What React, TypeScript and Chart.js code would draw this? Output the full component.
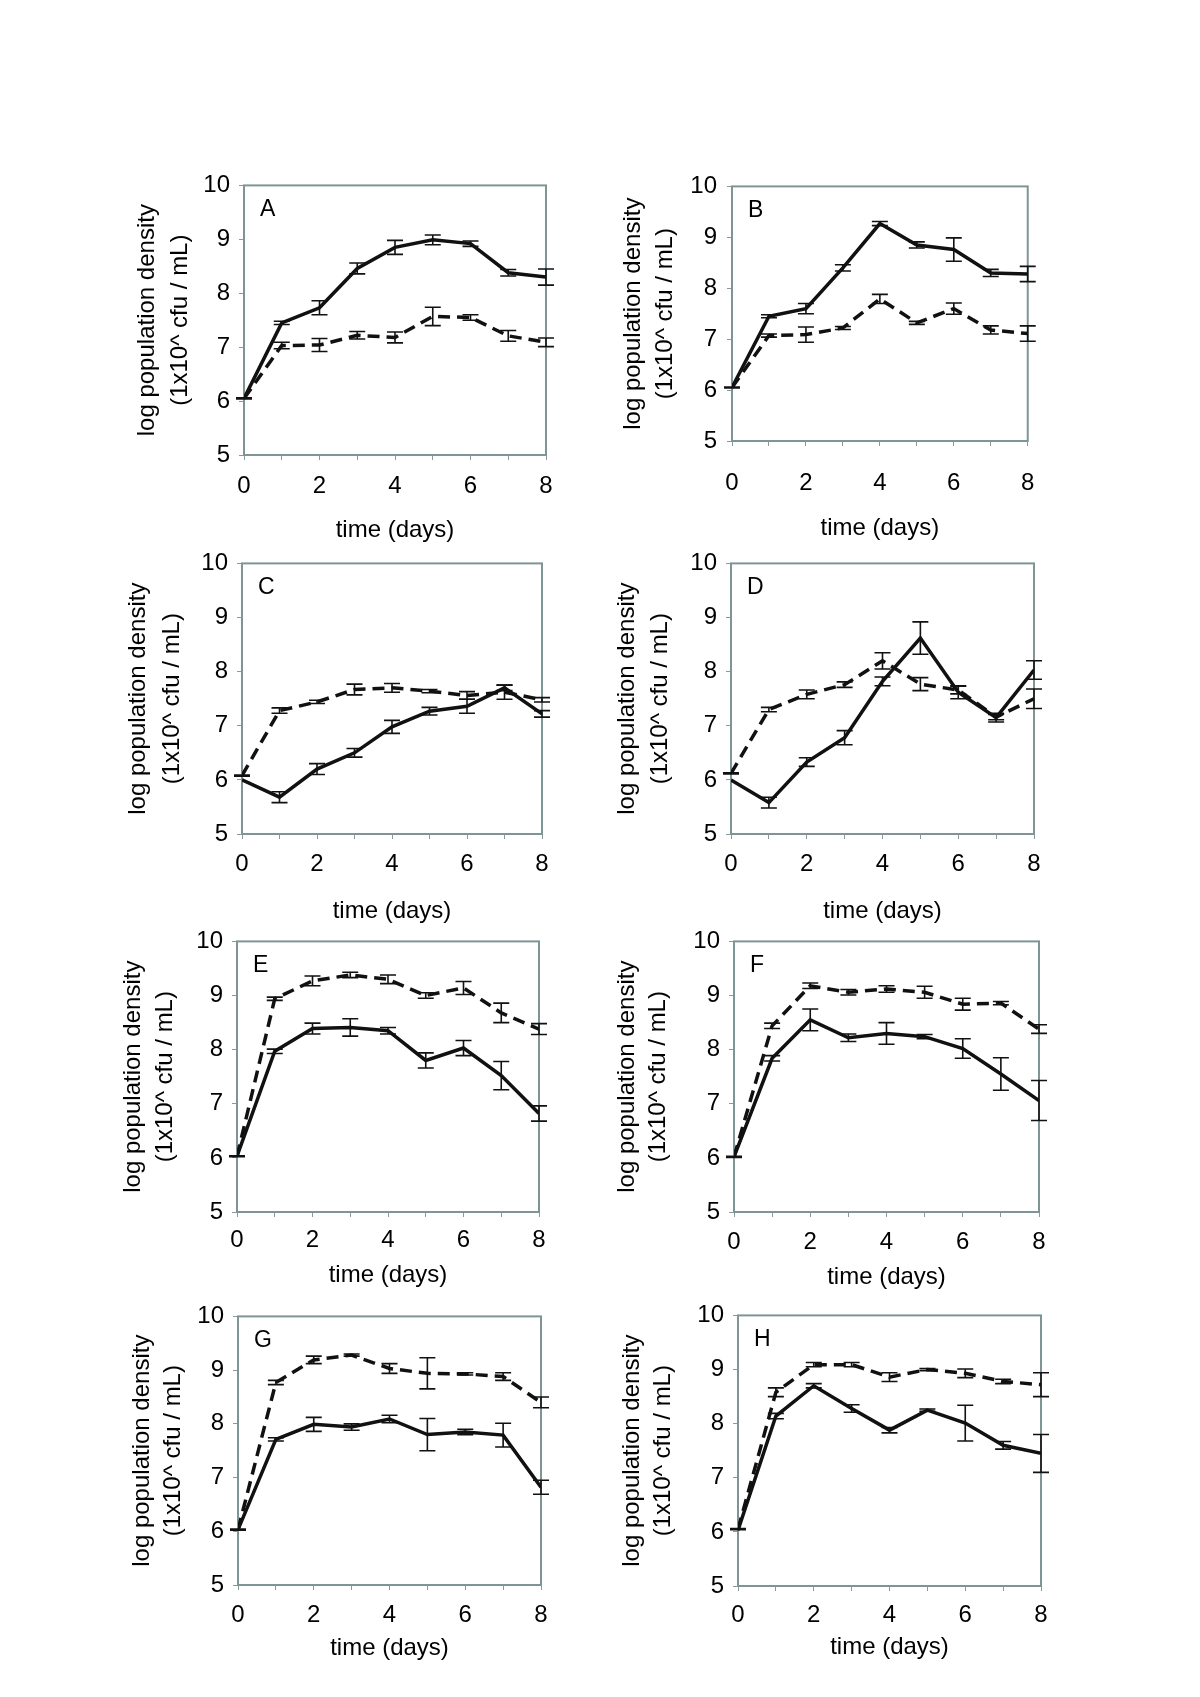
import React, { useEffect, useRef } from 'react';
import { Chart, registerables } from 'chart.js';
Chart.register(...registerables);

const FONT = '"Liberation Sans", Arial, Helvetica, sans-serif';

// ---- data ----
const days = [0, 1, 2, 3, 4, 5, 6, 7, 8];
const xTickLabels = ['0', '', '2', '', '4', '', '6', '', '8'];
const yTitle = ['log population density', '(1x10^ cfu / mL)'];
const xTitle = 'time (days)';

const aSolid = [6.05, 7.45, 7.73, 8.46, 8.85, 8.99, 8.92, 8.38, 8.30];
const aSolidErr = [0, 0.03, 0.13, 0.1, 0.13, 0.09, 0.05, 0.06, 0.15];
const aDashed = [6.05, 7.03, 7.04, 7.22, 7.18, 7.57, 7.55, 7.21, 7.09];
const aDashedErr = [0.01, 0.06, 0.12, 0.07, 0.1, 0.17, 0.05, 0.1, 0.08];

const bSolid = [6.05, 7.45, 7.6, 8.4, 9.27, 8.85, 8.76, 8.3, 8.28];
const bSolidErr = [0, 0.03, 0.1, 0.06, 0.04, 0.06, 0.23, 0.07, 0.15];
const bDashed = [6.05, 7.07, 7.09, 7.22, 7.79, 7.32, 7.6, 7.18, 7.11];
const bDashedErr = [0.01, 0.03, 0.15, 0.03, 0.09, 0.03, 0.11, 0.08, 0.15];

const cSolid = [6.0, 5.68, 6.2, 6.5, 6.98, 7.27, 7.36, 7.7, 7.22];
const cSolidErr = [0, 0.1, 0.1, 0.08, 0.12, 0.07, 0.13, 0.05, 0.06];
const cDashed = [6.08, 7.28, 7.44, 7.67, 7.7, 7.64, 7.56, 7.62, 7.48];
const cDashedErr = [0.01, 0.05, 0.03, 0.1, 0.08, 0.03, 0.07, 0.13, 0.04];

const dSolid = [6.0, 5.58, 6.33, 6.78, 7.82, 8.62, 7.62, 7.15, 8.03];
const dSolidErr = [0, 0.1, 0.08, 0.13, 0.08, 0.3, 0.12, 0.08, 0.17];
const dDashed = [6.12, 7.3, 7.58, 7.76, 8.2, 7.77, 7.66, 7.16, 7.5];
const dDashedErr = [0.01, 0.04, 0.08, 0.05, 0.15, 0.12, 0.07, 0.05, 0.18];

const eSolid = [6.03, 7.97, 8.39, 8.41, 8.35, 7.8, 8.03, 7.52, 6.82];
const eSolidErr = [0, 0.04, 0.1, 0.16, 0.06, 0.14, 0.14, 0.26, 0.14];
const eDashed = [6.03, 8.94, 9.27, 9.38, 9.3, 9.0, 9.14, 8.68, 8.38];
const eDashedErr = [0.01, 0.03, 0.09, 0.05, 0.08, 0.05, 0.12, 0.18, 0.1];

const fSolid = [6.02, 7.84, 8.55, 8.22, 8.3, 8.24, 8.02, 7.55, 7.06];
const fSolidErr = [0, 0.05, 0.2, 0.07, 0.2, 0.04, 0.18, 0.3, 0.37];
const fDashed = [6.02, 8.44, 9.18, 9.06, 9.12, 9.06, 8.84, 8.86, 8.38];
const fDashedErr = [0.01, 0.05, 0.05, 0.05, 0.06, 0.11, 0.11, 0.03, 0.08];

const gSolid = [6.03, 7.71, 7.99, 7.94, 8.09, 7.8, 7.85, 7.79, 6.82];
const gSolidErr = [0, 0.03, 0.13, 0.06, 0.07, 0.3, 0.05, 0.22, 0.13];
const gDashed = [6.03, 8.77, 9.19, 9.28, 9.03, 8.94, 8.93, 8.88, 8.4];
const gDashedErr = [0.01, 0.04, 0.07, 0.02, 0.09, 0.29, 0.02, 0.07, 0.1];

const hSolid = [6.03, 8.14, 8.7, 8.28, 7.88, 8.25, 8.01, 7.6, 7.45];
const hSolidErr = [0, 0.05, 0.04, 0.07, 0.05, 0.02, 0.33, 0.07, 0.35];
const hDashed = [6.05, 8.58, 9.09, 9.09, 8.86, 9.0, 8.93, 8.78, 8.72];
const hDashedErr = [0.01, 0.08, 0.04, 0.04, 0.08, 0.02, 0.08, 0.04, 0.22];

const panelLetters = ['A', 'B', 'C', 'D', 'E', 'F', 'G', 'H'];
const solidSeries = [aSolid, bSolid, cSolid, dSolid, eSolid, fSolid, gSolid, hSolid];
const solidErrors = [aSolidErr, bSolidErr, cSolidErr, dSolidErr, eSolidErr, fSolidErr, gSolidErr, hSolidErr];
const dashedSeries = [aDashed, bDashed, cDashed, dDashed, eDashed, fDashed, gDashed, hDashed];
const dashedErrors = [aDashedErr, bDashedErr, cDashedErr, dDashedErr, eDashedErr, fDashedErr, gDashedErr, hDashedErr];

// ---- layout (page pixels): plot area box and text offsets ----
type Geo = { L: number; T: number; R: number; B: number; xLab: number; xTit: number; yLab: number; yT1: number; yT2: number };
const layouts: Geo[] = [
  { L: 244, T: 182, R: 546, B: 455, xLab: 31, xTit: 75, yLab: 14, yT1: 97, yT2: 64 },
  { L: 732, T: 182, R: 1032, B: 441, xLab: 42, xTit: 87, yLab: 15, yT1: 99, yT2: 67 },
  { L: 242, T: 560, R: 542, B: 834, xLab: 30, xTit: 77, yLab: 14, yT1: 104, yT2: 70 },
  { L: 731, T: 560, R: 1034, B: 834, xLab: 30, xTit: 77, yLab: 14, yT1: 104, yT2: 71 },
  { L: 237, T: 938, R: 539, B: 1212, xLab: 28, xTit: 63, yLab: 14, yT1: 104, yT2: 72 },
  { L: 734, T: 938, R: 1039, B: 1212, xLab: 30, xTit: 65, yLab: 14, yT1: 107, yT2: 76 },
  { L: 238, T: 1313, R: 541, B: 1585, xLab: 30, xTit: 63, yLab: 14, yT1: 96, yT2: 65 },
  { L: 738, T: 1312, R: 1041, B: 1586, xLab: 29, xTit: 61, yLab: 14, yT1: 106, yT2: 75 },
];

const PAD_L = 125, PAD_T = 20, PAD_R = 25, PAD_B = 100;
const TICK_FONT = 24;
const TITLE_FONT = 24;
const LETTER_FONT = 23;
const FRAME = '#7f9595';

function Panel({ idx }: { idx: number }) {
  const ref = useRef<HTMLCanvasElement | null>(null);
  const g = layouts[idx];
  const w = g.R - g.L + PAD_L + PAD_R;
  const h = g.B - g.T + PAD_T + PAD_B;

  useEffect(() => {
    if (!ref.current) return;
    const errs = [solidErrors[idx], dashedErrors[idx]];
    const letter = panelLetters[idx];
    const yLH = g.yT1 - g.yT2;
    const xLH = TITLE_FONT * 1.2;
    const tickLH = TICK_FONT * 1.2;

    const framePlugin = {
      id: 'frame',
      beforeDatasetsDraw(chart: any) {
        const { ctx, chartArea: a } = chart;
        ctx.save();
        ctx.strokeStyle = FRAME;
        ctx.lineWidth = 2;
        ctx.strokeRect(a.left, a.top, a.right - a.left, a.bottom - a.top);
        ctx.restore();
      },
    };
    const errorPlugin = {
      id: 'errorBars',
      afterDatasetsDraw(chart: any) {
        const { ctx, scales } = chart;
        const xs = scales.x, ys = scales.y;
        ctx.save();
        ctx.strokeStyle = '#111';
        ctx.lineWidth = 1.6;
        chart.data.datasets.forEach((ds: any, i: number) => {
          ds.data.forEach((p: any, j: number) => {
            const e = errs[i][j];
            if (!e) return;
            const px = xs.getPixelForValue(p.x);
            const yt = ys.getPixelForValue(p.y + e);
            const yb = ys.getPixelForValue(p.y - e);
            ctx.beginPath();
            ctx.moveTo(px, yt); ctx.lineTo(px, yb);
            ctx.moveTo(px - 8, yt); ctx.lineTo(px + 8, yt);
            ctx.moveTo(px - 8, yb); ctx.lineTo(px + 8, yb);
            ctx.stroke();
          });
        });
        ctx.restore();
      },
    };
    const letterPlugin = {
      id: 'letter',
      afterDraw(chart: any) {
        const { ctx, chartArea: a } = chart;
        ctx.save();
        ctx.fillStyle = '#000';
        ctx.font = `${LETTER_FONT}px ${FONT}`;
        ctx.textAlign = 'left';
        ctx.textBaseline = 'middle';
        ctx.fillText(letter, a.left + 16, a.top + 24);
        ctx.restore();
      },
    };

    const chart = new Chart(ref.current, {
      type: 'line',
      data: {
        datasets: [
          {
            data: days.map((d, j) => ({ x: d, y: solidSeries[idx][j] })),
            borderColor: '#111',
            borderWidth: 3.5,
            pointRadius: 0,
            tension: 0,
            fill: false,
          },
          {
            data: days.map((d, j) => ({ x: d, y: dashedSeries[idx][j] })),
            borderColor: '#111',
            borderWidth: 3.5,
            borderDash: [12, 7],
            pointRadius: 0,
            tension: 0,
            fill: false,
          },
        ],
      },
      options: {
        animation: false,
        responsive: false,
        devicePixelRatio: 1,
        layout: { padding: { left: 0, top: PAD_T, right: PAD_R, bottom: 0 } },
        plugins: { legend: { display: false }, tooltip: { enabled: false } },
        scales: {
          x: {
            type: 'linear',
            min: 0,
            max: 8,
            afterFit: (s: any) => { s.height = PAD_B; },
            ticks: {
              stepSize: 1,
              autoSkip: false,
              maxRotation: 0,
              color: '#000',
              font: { size: TICK_FONT, family: FONT, lineHeight: 1.2 },
              padding: g.xLab - 5 - tickLH / 2,
              callback: (v: any) => xTickLabels[days.indexOf(Number(v))] ?? '',
            },
            grid: { drawOnChartArea: false, drawTicks: true, tickLength: 5, color: '#8a9a9a' },
            border: { display: false },
            title: {
              display: true,
              text: xTitle,
              color: '#000',
              font: { size: TITLE_FONT, family: FONT, lineHeight: 1.2 },
              padding: { top: 0, bottom: PAD_B - g.xTit - xLH / 2 },
            },
          },
          y: {
            type: 'linear',
            min: 5,
            max: 10,
            afterFit: (s: any) => { s.width = PAD_L; },
            ticks: {
              stepSize: 1,
              color: '#000',
              font: { size: TICK_FONT, family: FONT },
              padding: g.yLab - 5,
            },
            grid: { drawOnChartArea: false, drawTicks: true, tickLength: 5, color: '#8a9a9a' },
            border: { display: false },
            title: {
              display: true,
              text: yTitle,
              color: '#000',
              font: { size: TITLE_FONT, family: FONT, lineHeight: yLH / TITLE_FONT },
              padding: { top: PAD_L - g.yT1 - yLH / 2, bottom: 0 },
            },
          },
        },
      } as any,
      plugins: [framePlugin, errorPlugin, letterPlugin],
    });
    return () => chart.destroy();
  }, [idx]);

  return (
    <canvas
      ref={ref}
      width={w}
      height={h}
      style={{ position: 'absolute', left: g.L - PAD_L, top: g.T - PAD_T, width: w, height: h }}
    />
  );
}

export default function App() {
  return (
    <div style={{ position: 'absolute', left: 0, top: 0, width: 1200, height: 1697, background: '#fff' }}>
      {panelLetters.map((_, i) => (
        <Panel key={i} idx={i} />
      ))}
    </div>
  );
}
